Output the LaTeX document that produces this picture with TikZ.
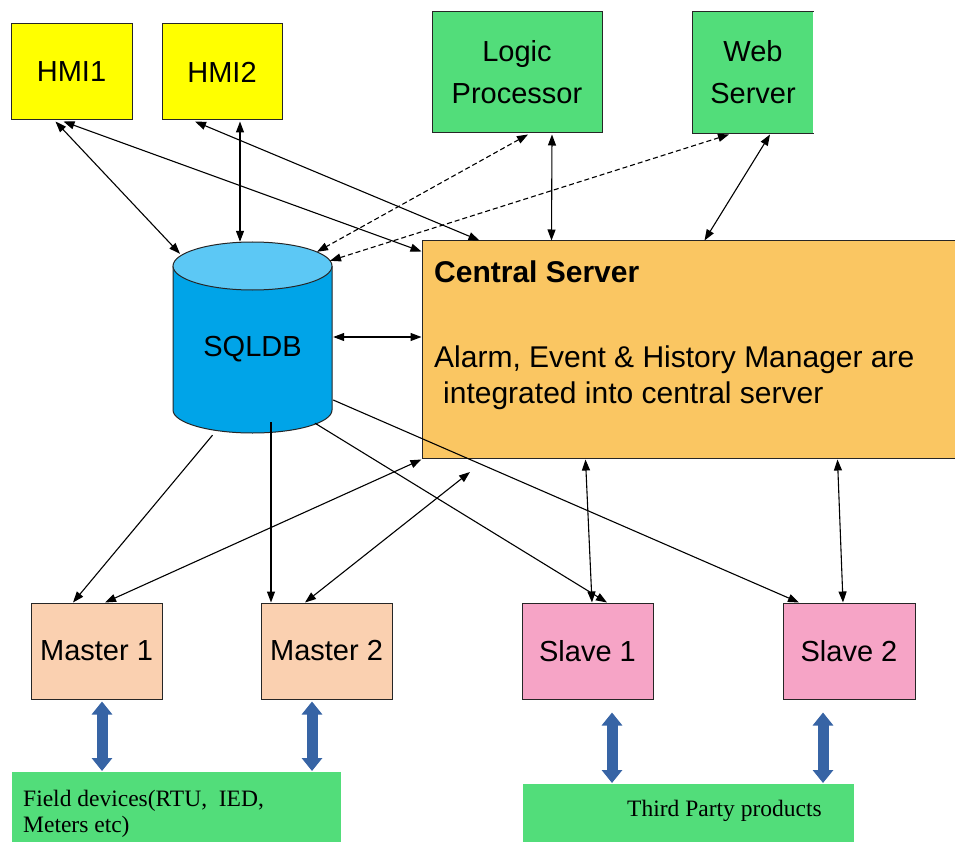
\documentclass[tikz,border=0pt]{standalone}
\usepackage{fontspec}
\setmainfont{Liberation Sans}
\newfontfamily\timesfont{Liberation Serif}
\usetikzlibrary{arrows.meta,calc}
\definecolor{hmiyellow}{RGB}{255,255,0}
\definecolor{topgreen}{RGB}{82,221,122}
\definecolor{serverorange}{RGB}{250,198,98}
\definecolor{masterpeach}{RGB}{250,208,176}
\definecolor{slavepink}{RGB}{246,164,198}
\definecolor{dbbody}{RGB}{0,164,232}
\definecolor{dbtop}{RGB}{92,200,245}
\definecolor{busblue}{RGB}{55,100,165}
\begin{document}
\begin{tikzpicture}[x=1pt,y=-1pt,
  box/.style={draw=black!85,line width=1pt,inner sep=0pt,align=center,
    font=\fontsize{29}{42}\selectfont},
  link/.style={line width=1.1pt,
    {Triangle[length=11pt,width=8pt]}-{Triangle[length=11pt,width=8pt]}},
  oneway/.style={line width=1.1pt,-{Triangle[length=11pt,width=8pt]}},
  dashlink/.style={link,dash pattern=on 5pt off 3pt},
  busarrow/.style={draw=busblue,line width=11pt,
    {Triangle[length=13pt,width=20pt]}-{Triangle[length=13pt,width=20pt]}},
  fieldbox/.style={fill=topgreen,inner sep=0pt,anchor=north west},
  fieldtext/.style={anchor=base west,inner sep=0pt,
    font=\timesfont\fontsize{23.5}{26}\selectfont},
  servertext/.style={anchor=base west,inner sep=0pt,
    font=\fontsize{30}{36}\selectfont}]
\useasboundingbox (0,0) rectangle (955,842);
%
\node[box,fill=hmiyellow,minimum width=121,minimum height=96] (hmi1) at (71.5,72) {HMI1};
\node[box,fill=hmiyellow,minimum width=120,minimum height=96] (hmi2) at (222,72) {HMI2};
\node[box,fill=topgreen,minimum width=170,minimum height=121] (logic) at (517,72.5) {Logic\\Processor};
\node[box,draw=none,fill=topgreen,minimum width=120,minimum height=121] (web) at (753,72.5) {Web\\Server};
\draw[line width=1pt,black!85] (web.north east) -- (web.north west) -- (web.south west) -- (web.south east);
%
\node[box,fill=serverorange,minimum width=536,minimum height=217] (central) at (690,349.5) {};
\node[servertext,font=\bfseries\fontsize{30}{36}\selectfont] (centralhead) at (434,282) {Central Server};
\node[servertext] (centralnote) at (434,367) {Alarm, Event \& History Manager are};
\node[servertext] (centralnotecont) at (443,403) {integrated into central server};
%
% database drum
\fill[dbbody] (173,266) -- (173,410) arc[start angle=180,end angle=360,x radius=79.5pt,y radius=23pt] -- (332,266) -- cycle;
\draw[line width=1pt,draw=black!85] (173,266) -- (173,410) arc[start angle=180,end angle=360,x radius=79.5pt,y radius=23pt] -- (332,266);
\draw[fill=dbtop,line width=1pt,draw=black!85] (252.5,266) ellipse[x radius=79.5pt,y radius=24pt];
\node[inner sep=0pt,minimum width=159,minimum height=167,font=\fontsize{29}{35}\selectfont] (sqldb) at (252.5,349.5) {SQLDB};
%
\node[box,fill=masterpeach,minimum width=131,minimum height=96] (master1) at (96.5,651) {Master 1};
\node[box,fill=masterpeach,minimum width=131,minimum height=96] (master2) at (326.5,651) {Master 2};
\node[box,fill=slavepink,minimum width=131,minimum height=96] (slave1) at (587.5,651) {Slave 1};
\node[box,fill=slavepink,minimum width=132,minimum height=96] (slave2) at (849,651) {Slave 2};
%
\node[fieldbox,minimum width=329,minimum height=80] (field) at (12,772) {};
\node[fieldtext] (fieldline) at ($(field.north west)+(11,34)$) {Field devices(RTU,\ \ IED,};
\node[fieldtext] (fieldlinecont) at ($(field.north west)+(11,60)$) {Meters etc)};
\node[fieldbox,minimum width=331,minimum height=68] (third) at (523,784) {};
\node[fieldtext] (thirdtext) at ($(third.north west)+(104,32)$) {Third Party products};
%
% HMI links
\draw[link] ($(hmi1.south)+(-16,1)$) -- ($(sqldb.north)+(-72.5,-12)$);
\draw[link] ($(hmi1.south)+(-8,1)$) -- ($(central.north west)+(0,11)$);
\draw[link] ($(hmi2.south)+(18,1)$) -- ($(sqldb.north)+(-12.5,-24)$);
\draw[link] ($(hmi2.south)+(-27,1)$) -- ($(central.north west)+(58,0)$);
%
% logic processor and web server
\draw[dashlink] ($(logic.south)+(11,1)$) -- ($(sqldb.north)+(64.5,-14)$);
\draw[dashlink] ($(web.south)+(-24,1)$) -- ($(sqldb.north)+(77.5,-5)$);
\draw[link] ($(logic.south)+(35,1)$) -- ($(central.north west)+(130,0)$);
\draw[link] ($(web.south)+(17,1)$) -- ($(central.north west)+(283,0)$);
%
\draw[link] ($(sqldb.east)+(1,-12.5)$) -- ($(central.west)+(0,-12.5)$);
%
% masters
\draw[oneway] ($(sqldb.south)+(-40,2)$) -- ($(master1.north)+(-23.5,0)$);
\draw[link] ($(central.south west)+(0,1)$) -- ($(master1.north)+(8.5,0)$);
\draw[oneway] ($(sqldb.south)+(18.5,-11)$) -- ($(master2.north)+(-55.5,0)$);
\coordinate (gap) at (470,472);
\draw[link] (gap) -- ($(master2.north)+(-21.5,0)$);
%
% slaves
\draw[oneway] ($(sqldb.south)+(62.5,-10)$) -- ($(slave1.north)+(19.5,0)$);
\draw[oneway] ($(sqldb.east)+(1,50.5)$) -- ($(slave2.north)+(-50,0)$);
\draw[link] ($(central.south west)+(164,1)$) -- ($(slave1.north)+(4.5,0)$);
\draw[link] ($(central.south west)+(416,1)$) -- ($(slave2.north)+(-6,0)$);
%
% field side
\draw[busarrow] ($(master1.south)+(5.5,2)$) -- ($(field.north west)+(90,-1)$);
\draw[busarrow] ($(master2.south)+(-14.5,2)$) -- ($(field.north west)+(300,-1)$);
\draw[busarrow] ($(slave1.south)+(24.5,13)$) -- ($(third.north west)+(89,-1)$);
\draw[busarrow] ($(slave2.south)+(-26,13)$) -- ($(third.north west)+(300,-1)$);
\end{tikzpicture}
\end{document}
